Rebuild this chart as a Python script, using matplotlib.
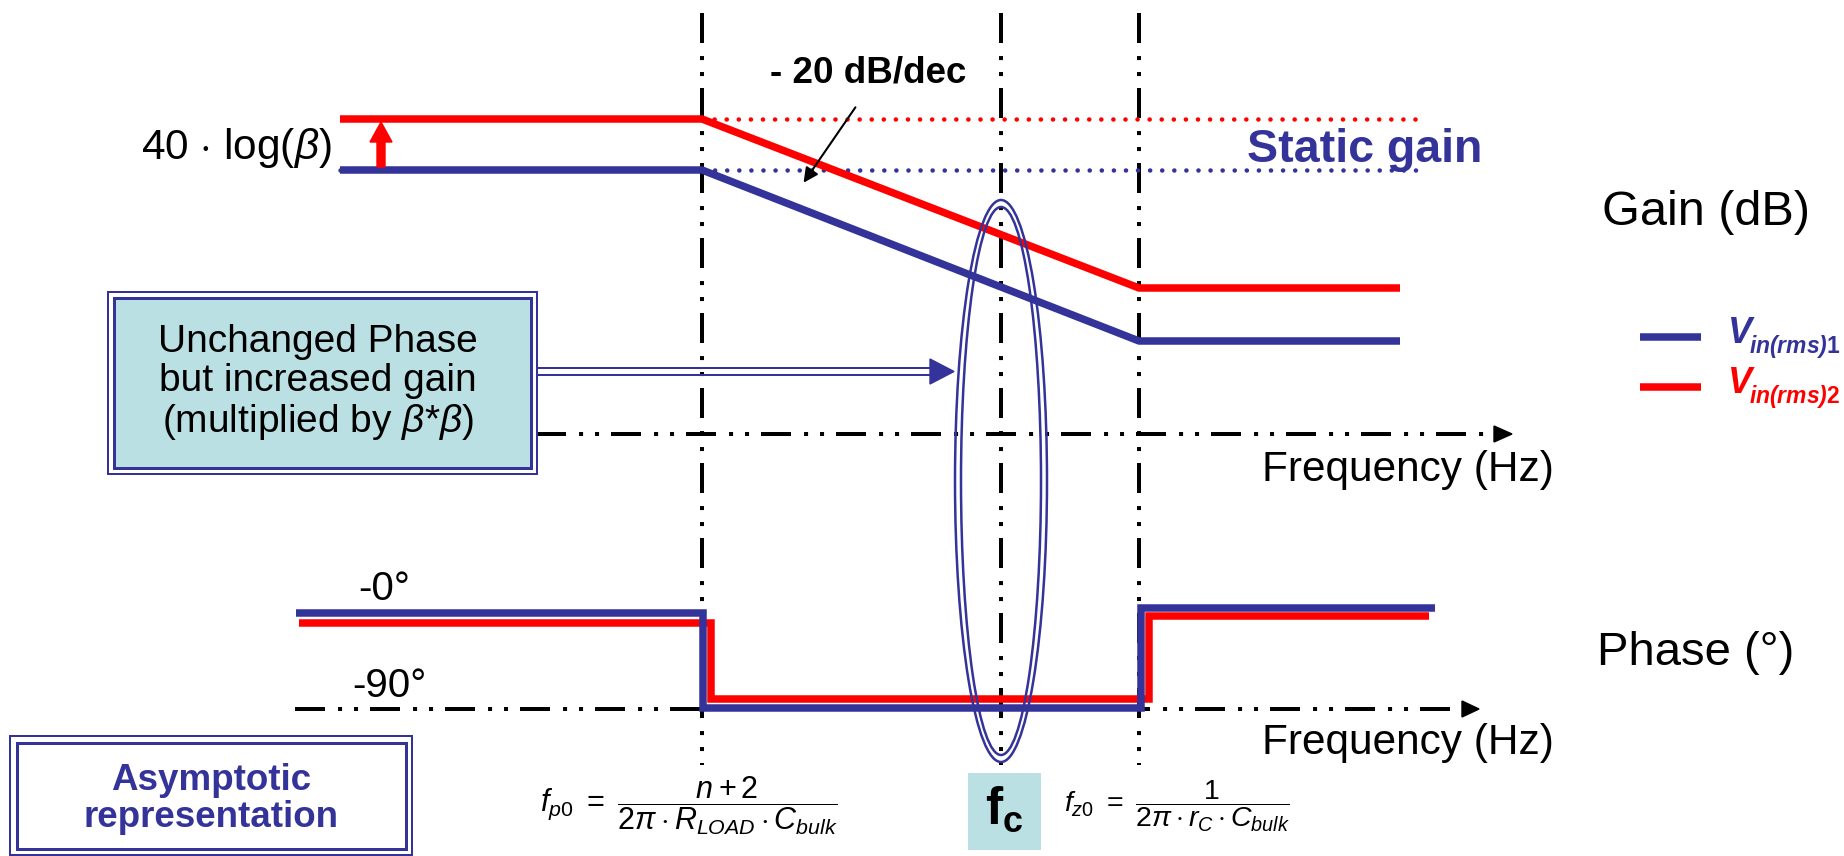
import matplotlib.pyplot as plt
from matplotlib.patches import Rectangle, Ellipse, Polygon, FancyArrow

plt.rcParams['font.family'] = ['Liberation Sans', 'DejaVu Sans']
plt.rcParams['mathtext.fontset'] = 'custom'
plt.rcParams['mathtext.rm'] = 'Liberation Sans'
plt.rcParams['mathtext.it'] = 'Liberation Sans:italic'
plt.rcParams['mathtext.bf'] = 'Liberation Sans:bold'
plt.rcParams['mathtext.bfit'] = 'Liberation Sans:bold:italic'
plt.rcParams['lines.scale_dashes'] = False

BLUE = '#333399'
RED = '#FF0000'
TEAL = '#BBE0E3'
PX = 0.72  # points per pixel at dpi 100

# break frequencies (diagram x positions): fp0, fc, fz0
break_x = [702, 1001, 1139]

# gain asymptotes
gain_x = [340, 702, 1139, 1400]
gain_v1 = [170, 170, 341, 341]
gain_v2 = [119, 119, 288, 288]
static_x = [702, 1425]

# phase asymptotes
phase_x1 = [296, 703, 703, 1141, 1141, 1435]
phase_y1 = [613, 613, 708, 708, 608, 608]
phase_x2 = [299, 711, 711, 1149, 1149, 1429]
phase_y2 = [623, 623, 699, 699, 616, 616]

gain_axis_y = 434
phase_axis_y = 709

fig = plt.figure(figsize=(18.44, 8.56), dpi=100)
ax = fig.add_axes([0, 0, 1, 1])
ax.set_xlim(0, 1844)
ax.set_ylim(856, 0)
ax.axis('off')

dashdot = (0, (21.6, 9.4, 2.9, 8.6, 2.9, 8.6))
dots = (0, (0.1, 8.6))

# vertical break lines
for x in break_x:
    ax.plot([x, x], [13, 765], color='k', lw=4 * PX, linestyle=dashdot,
            dash_capstyle='butt', zorder=1)

# frequency axes
ax.plot([536, 1496], [gain_axis_y] * 2, color='k', lw=4 * PX, linestyle=dashdot,
        dash_capstyle='butt', zorder=1)
ax.add_patch(Polygon([(1494, gain_axis_y - 8), (1512, gain_axis_y), (1494, gain_axis_y + 8)],
                     color='k', zorder=2))
ax.plot([295, 1463], [phase_axis_y] * 2, color='k', lw=4 * PX, linestyle=dashdot,
        dash_capstyle='butt', zorder=1)
ax.add_patch(Polygon([(1462, phase_axis_y - 8), (1479, phase_axis_y), (1462, phase_axis_y + 8)],
                     color='k', zorder=2))

# static gain dotted references
ax.plot(static_x, [gain_v2[0]] * 2, color=RED, lw=4.5 * PX, linestyle=dots,
        dash_capstyle='round', zorder=2)
ax.plot([gain_x[0], static_x[1]], [gain_v1[0]] * 2, color=BLUE, lw=4.5 * PX, linestyle=dots,
        dash_capstyle='round', zorder=2)

# gain curves
ax.plot(gain_x, gain_v2, color=RED, lw=7.5 * PX, solid_capstyle='butt', zorder=3)
ax.plot(gain_x, gain_v1, color=BLUE, lw=7.5 * PX, solid_capstyle='butt', zorder=3)

# phase curves
ax.plot(phase_x2, phase_y2, color=RED, lw=7.5 * PX, solid_capstyle='butt',
        solid_joinstyle='miter', zorder=3)
ax.plot(phase_x1, phase_y1, color=BLUE, lw=7.5 * PX, solid_capstyle='butt',
        solid_joinstyle='miter', zorder=4)

# red beta arrow
ax.add_patch(FancyArrow(381, 167, 0, -45, width=8, head_width=22, head_length=20,
                        length_includes_head=True, color=RED, zorder=4))
ax.text(332, 148, r'40 $\cdot$ log($\beta$)', fontsize=30.5, ha='right', va='center')

# slope annotation
ax.annotate('', xy=(802, 185), xytext=(857, 105),
            arrowprops=dict(arrowstyle='-|>', color='k', lw=1.5, mutation_scale=22))
ax.text(770, 73, '- 20 dB/dec', fontsize=26.5, fontweight='bold', ha='left', va='center')
ax.text(1247, 150, 'Static gain', fontsize=33.5, fontweight='bold', color=BLUE,
        ha='left', va='center')

# axis names
ax.text(1602, 212, 'Gain (dB)', fontsize=35, ha='left', va='center')
ax.text(1262, 470, 'Frequency (Hz)', fontsize=30.5, ha='left', va='center')
ax.text(1597, 653, 'Phase (°)', fontsize=34, ha='left', va='center')
ax.text(1262, 743, 'Frequency (Hz)', fontsize=30.5, ha='left', va='center')
ax.text(358, 589, '-0°', fontsize=29, ha='left', va='center')
ax.text(352, 686, '-90°', fontsize=29, ha='left', va='center')

# legend
ax.plot([1640, 1701], [337, 337], color=BLUE, lw=7.5 * PX, solid_capstyle='butt')
ax.plot([1640, 1701], [387, 387], color=RED, lw=7.5 * PX, solid_capstyle='butt')
for yb, col, idx in [(343, BLUE, '1'), (393, RED, '2')]:
    ax.text(1728, yb, 'V', fontsize=26, fontweight='bold', fontstyle='italic', color=col,
            ha='left', va='baseline')
    ax.text(1749, yb + 10, r'$\mathbfit{in(rms)}\mathbf{' + idx + '}$', fontsize=16.5,
            color=col, ha='left', va='baseline')

# fc ellipse (double line)
ax.add_patch(Ellipse((break_x[1], 481), 92, 562, fill=False, edgecolor=BLUE, lw=2.5 * PX, zorder=5))
ax.add_patch(Ellipse((break_x[1], 481), 80, 548, fill=False, edgecolor=BLUE, lw=2.5 * PX, zorder=5))

# comment box with double arrow
bx0, bx1, by0, by1 = 108, 537, 292, 474
ax.add_patch(Rectangle((bx0, by0), bx1 - bx0, by1 - by0, fill=False, edgecolor=BLUE,
                       lw=2 * PX, zorder=5))
ax.add_patch(Rectangle((bx0 + 6, by0 + 6), bx1 - bx0 - 12, by1 - by0 - 12, facecolor=TEAL,
                       edgecolor=BLUE, lw=3 * PX, zorder=5))
ax.text(318, (by0 + by1) / 2,
        'Unchanged Phase\nbut increased gain\n(multiplied by $\\beta$*$\\beta$)',
        fontsize=28, ha='center', va='center', linespacing=1.12, zorder=6)
ax.plot([bx1, 932], [368, 368], color=BLUE, lw=2 * PX, zorder=5)
ax.plot([bx1, 932], [375, 375], color=BLUE, lw=2 * PX, zorder=5)
ax.add_patch(Polygon([(930, 359), (954, 371.5), (930, 384)], color=BLUE, zorder=5))

# asymptotic representation box
ax.add_patch(Rectangle((10, 736), 402, 119, fill=False, edgecolor=BLUE, lw=2 * PX, zorder=5))
ax.add_patch(Rectangle((17, 743), 389, 106, fill=False, edgecolor=BLUE, lw=3 * PX, zorder=5))
ax.text(211, 799, 'Asymptotic\nrepresentation', fontsize=26.5, fontweight='bold',
        color=BLUE, ha='center', va='center', linespacing=1.05)

# formulas
ax.text(540, 806, r'$f_{p0}\ =\ \dfrac{n+2}{2\pi \cdot R_{LOAD} \cdot C_{bulk}}$',
        fontsize=22, ha='left', va='center')
ax.add_patch(Rectangle((968, 773), 73, 77, facecolor=TEAL, edgecolor='none'))
ax.text(1004, 810, r'$\mathbf{f}_{\mathbf{c}}$', fontsize=37, ha='center', va='center')
ax.text(1064, 806, r'$f_{z0}\ =\ \dfrac{1}{2\pi \cdot r_{C} \cdot C_{bulk}}$',
        fontsize=20.5, ha='left', va='center')

fig.savefig('out.png', dpi=100)
